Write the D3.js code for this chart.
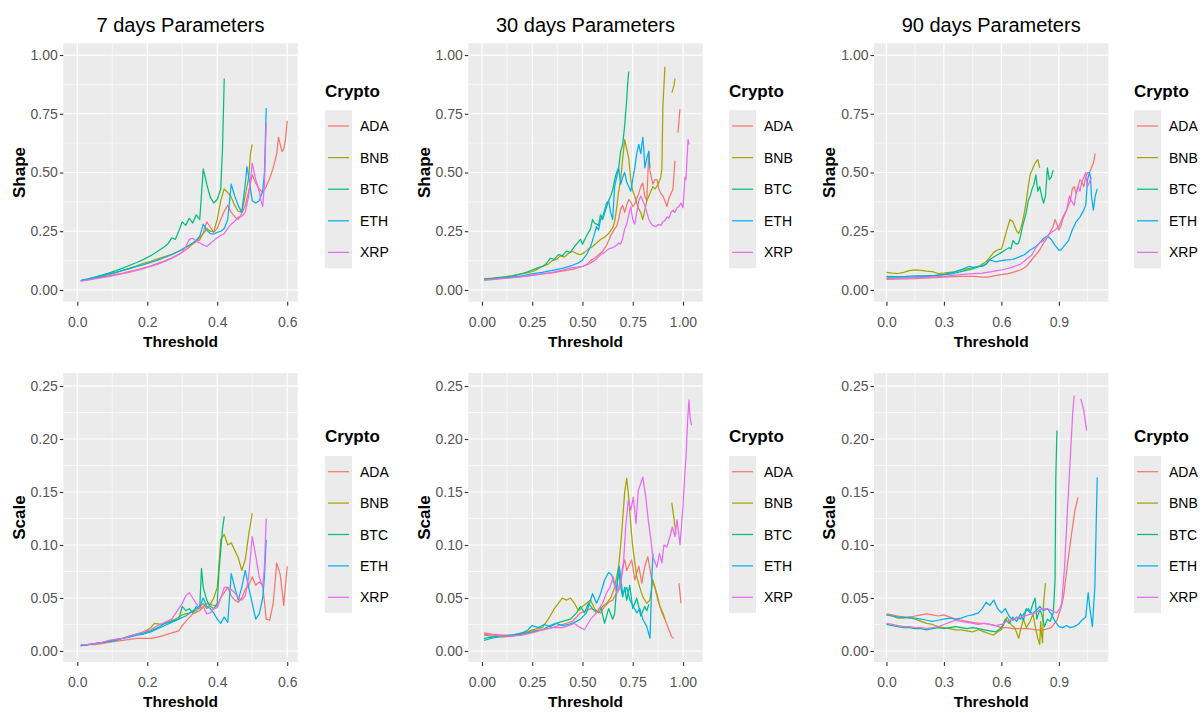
<!DOCTYPE html>
<html>
<head>
<meta charset="utf-8">
<script src="https://cdn.jsdelivr.net/npm/d3@7"></script>
<style>
  body { margin: 0; background: #ffffff; }
  svg text { font-family: "Liberation Sans", Arial, Helvetica, sans-serif; }
</style>
</head>
<body>
<svg id="chart" width="1204" height="713"></svg>
<script>
// ---- categories, labels and ticks ----
const cryptos = ["ADA", "BNB", "BTC", "ETH", "XRP"];
const cryptoColors = ["#F8766D", "#A3A500", "#00BF7D", "#00B0F6", "#E76BF3"];
const horizonTitles = ["7 days Parameters", "30 days Parameters", "90 days Parameters"];
const parameterNames = ["Shape", "Scale"];
const xTicks7 = [0, 0.2, 0.4, 0.6];
const xTicks30 = [0, 0.25, 0.5, 0.75, 1];
const xTicks90 = [0, 0.3, 0.6, 0.9];
const shapeTicks = [0, 0.25, 0.5, 0.75, 1];
const scaleTicks = [0, 0.05, 0.1, 0.15, 0.2, 0.25];

// ---- Shape estimates, 7 day window: [threshold, shape] ----
const shape7ADA = [[0.01,0.040],[0.03,0.044],[0.05,0.049],[0.07,0.054],[0.09,0.060],[0.11,0.066],[0.13,0.072],[0.15,0.079],[0.17,0.086],[0.19,0.094],[0.21,0.103],[0.23,0.113],[0.25,0.124],[0.27,0.137],[0.29,0.152],[0.31,0.170],[0.32,0.182],[0.33,0.196],[0.34,0.206],[0.35,0.213],[0.36,0.245],[0.37,0.290],[0.38,0.268],[0.39,0.245],[0.40,0.262],[0.41,0.300],[0.42,0.335],[0.43,0.360],[0.44,0.330],[0.45,0.312],[0.46,0.300],[0.47,0.325],[0.48,0.360],[0.49,0.420],[0.50,0.490],[0.51,0.455],[0.52,0.430],[0.53,0.415],[0.54,0.440],[0.55,0.475],[0.56,0.520],[0.57,0.580],[0.575,0.650],[0.58,0.620],[0.585,0.590],[0.59,0.600],[0.595,0.640],[0.60,0.720]];
const shape7BNB = [[0.01,0.040],[0.03,0.045],[0.05,0.051],[0.07,0.058],[0.09,0.066],[0.11,0.074],[0.13,0.083],[0.15,0.093],[0.17,0.103],[0.19,0.114],[0.21,0.122],[0.23,0.132],[0.25,0.142],[0.27,0.152],[0.29,0.165],[0.31,0.180],[0.33,0.198],[0.34,0.208],[0.35,0.222],[0.36,0.240],[0.37,0.262],[0.38,0.250],[0.39,0.248],[0.40,0.300],[0.41,0.380],[0.42,0.430],[0.43,0.415],[0.44,0.395],[0.45,0.360],[0.46,0.335],[0.47,0.330],[0.48,0.400],[0.49,0.480],[0.495,0.580],[0.50,0.620]];
const shape7BTC = [[0.01,0.040],[0.03,0.047],[0.05,0.055],[0.07,0.063],[0.09,0.072],[0.11,0.082],[0.13,0.093],[0.15,0.105],[0.17,0.117],[0.19,0.130],[0.21,0.146],[0.23,0.165],[0.25,0.185],[0.26,0.198],[0.27,0.222],[0.28,0.215],[0.29,0.250],[0.30,0.290],[0.31,0.275],[0.32,0.305],[0.33,0.285],[0.34,0.320],[0.35,0.300],[0.36,0.515],[0.37,0.450],[0.38,0.395],[0.39,0.370],[0.40,0.385],[0.41,0.430],[0.415,0.600],[0.42,0.900]];
const shape7ETH = [[0.01,0.040],[0.03,0.046],[0.05,0.052],[0.07,0.059],[0.09,0.067],[0.11,0.075],[0.13,0.083],[0.15,0.091],[0.17,0.100],[0.19,0.108],[0.21,0.117],[0.23,0.127],[0.25,0.138],[0.27,0.150],[0.29,0.165],[0.31,0.182],[0.33,0.200],[0.34,0.212],[0.35,0.228],[0.36,0.280],[0.37,0.255],[0.38,0.240],[0.39,0.238],[0.40,0.245],[0.41,0.250],[0.42,0.262],[0.43,0.300],[0.44,0.450],[0.45,0.400],[0.46,0.360],[0.47,0.330],[0.48,0.450],[0.485,0.525],[0.49,0.480],[0.50,0.380],[0.51,0.370],[0.52,0.380],[0.53,0.420],[0.535,0.500],[0.54,0.775]];
const shape7XRP = [[0.01,0.038],[0.03,0.042],[0.05,0.047],[0.07,0.052],[0.09,0.057],[0.11,0.063],[0.13,0.069],[0.15,0.076],[0.17,0.083],[0.19,0.091],[0.21,0.100],[0.23,0.110],[0.25,0.121],[0.27,0.134],[0.29,0.150],[0.30,0.160],[0.31,0.185],[0.32,0.215],[0.33,0.220],[0.34,0.208],[0.35,0.200],[0.36,0.192],[0.37,0.185],[0.38,0.198],[0.39,0.210],[0.40,0.222],[0.41,0.232],[0.42,0.240],[0.43,0.262],[0.44,0.280],[0.45,0.292],[0.46,0.310],[0.47,0.312],[0.48,0.330],[0.49,0.400],[0.50,0.540],[0.51,0.470],[0.52,0.420],[0.525,0.380],[0.53,0.355],[0.535,0.450],[0.54,0.710]];

// ---- Shape estimates, 30 day window (null = no estimate) ----
const shape30ADA = [[0.01,0.045],[0.05,0.047],[0.10,0.050],[0.15,0.053],[0.20,0.057],[0.25,0.062],[0.30,0.068],[0.35,0.073],[0.40,0.080],[0.45,0.088],[0.48,0.095],[0.50,0.100],[0.52,0.108],[0.54,0.125],[0.56,0.135],[0.58,0.150],[0.60,0.165],[0.62,0.190],[0.64,0.230],[0.66,0.260],[0.67,0.272],[0.68,0.300],[0.69,0.345],[0.70,0.360],[0.71,0.330],[0.72,0.360],[0.73,0.385],[0.74,0.375],[0.75,0.355],[0.76,0.365],[0.77,0.390],[0.78,0.410],[0.79,0.440],[0.80,0.455],[0.81,0.400],[0.82,0.380],[0.83,0.590],[0.835,0.510],[0.85,0.450],[0.86,0.470],[0.87,0.470],[0.88,0.430],[0.89,0.410],[0.90,0.400],[0.91,0.380],[0.92,0.355],[0.93,0.390],[0.94,0.410],[0.95,0.430],[0.96,0.550],[0.97,null],[0.975,0.670],[0.98,0.720],[0.985,0.770]];
const shape30BNB = [[0.01,0.047],[0.05,0.050],[0.10,0.055],[0.15,0.060],[0.20,0.068],[0.25,0.078],[0.28,0.090],[0.30,0.100],[0.33,0.110],[0.35,0.125],[0.37,0.130],[0.39,0.145],[0.41,0.140],[0.43,0.155],[0.45,0.165],[0.47,0.155],[0.49,0.150],[0.51,0.160],[0.53,0.175],[0.55,0.185],[0.57,0.200],[0.59,0.215],[0.61,0.225],[0.63,0.240],[0.65,0.265],[0.66,0.290],[0.67,0.350],[0.68,0.420],[0.69,0.470],[0.70,0.560],[0.71,0.640],[0.72,0.600],[0.73,0.560],[0.74,0.470],[0.75,0.420],[0.76,0.400],[0.77,0.370],[0.78,0.345],[0.79,0.330],[0.80,0.300],[0.81,0.340],[0.82,0.380],[0.83,0.400],[0.84,0.420],[0.85,0.440],[0.86,0.430],[0.87,0.440],[0.88,0.460],[0.89,0.480],[0.895,0.520],[0.90,0.780],[0.91,0.950],[0.92,null],[0.945,0.840],[0.955,0.870],[0.96,0.900]];
const shape30BTC = [[0.01,0.046],[0.05,0.048],[0.10,0.053],[0.15,0.060],[0.20,0.070],[0.23,0.078],[0.25,0.085],[0.28,0.095],[0.30,0.100],[0.32,0.112],[0.34,0.135],[0.36,0.130],[0.38,0.150],[0.40,0.145],[0.42,0.165],[0.44,0.160],[0.46,0.185],[0.48,0.205],[0.49,0.215],[0.50,0.195],[0.52,0.230],[0.54,0.260],[0.55,0.300],[0.56,0.285],[0.58,0.275],[0.59,0.320],[0.60,0.300],[0.62,0.355],[0.63,0.380],[0.64,0.400],[0.65,0.425],[0.66,0.470],[0.67,0.500],[0.68,0.520],[0.69,0.590],[0.70,0.620],[0.71,0.700],[0.72,0.810],[0.725,0.880],[0.73,0.930]];
const shape30ETH = [[0.01,0.043],[0.05,0.045],[0.10,0.050],[0.15,0.055],[0.20,0.060],[0.25,0.068],[0.30,0.075],[0.35,0.083],[0.40,0.092],[0.45,0.105],[0.48,0.115],[0.50,0.128],[0.52,0.150],[0.54,0.185],[0.55,0.210],[0.56,0.240],[0.57,0.270],[0.58,0.255],[0.59,0.300],[0.60,0.310],[0.61,0.340],[0.62,0.370],[0.63,0.380],[0.64,0.330],[0.65,0.300],[0.66,0.440],[0.67,0.480],[0.68,0.520],[0.69,0.450],[0.70,0.480],[0.71,0.500],[0.72,0.460],[0.73,0.440],[0.74,0.420],[0.75,0.470],[0.76,0.520],[0.77,0.580],[0.78,0.620],[0.79,0.580],[0.80,0.650],[0.805,0.600],[0.81,0.520],[0.82,0.560],[0.83,0.590],[0.835,0.520]];
const shape30XRP = [[0.01,0.042],[0.05,0.044],[0.10,0.048],[0.15,0.052],[0.20,0.057],[0.25,0.062],[0.30,0.068],[0.35,0.075],[0.40,0.085],[0.45,0.095],[0.50,0.100],[0.53,0.110],[0.56,0.125],[0.59,0.150],[0.61,0.160],[0.63,0.175],[0.65,0.180],[0.67,0.190],[0.68,0.200],[0.69,0.195],[0.70,0.220],[0.71,0.260],[0.72,0.280],[0.73,0.320],[0.74,0.355],[0.75,0.300],[0.76,0.280],[0.77,0.330],[0.78,0.380],[0.79,0.400],[0.80,0.380],[0.81,0.360],[0.82,0.330],[0.83,0.300],[0.84,0.285],[0.85,0.275],[0.86,0.270],[0.87,0.272],[0.88,0.280],[0.89,0.275],[0.90,0.290],[0.91,0.295],[0.92,0.310],[0.93,0.305],[0.94,0.330],[0.95,0.340],[0.96,0.330],[0.97,0.350],[0.98,0.355],[0.99,0.370],[1.00,0.350],[1.01,0.480],[1.015,0.470],[1.02,0.560],[1.025,0.640],[1.03,0.620]];

// ---- Shape estimates, 90 day window ----
const shape90ADA = [[0.00,0.045],[0.05,0.046],[0.10,0.047],[0.15,0.048],[0.20,0.050],[0.25,0.052],[0.30,0.055],[0.35,0.057],[0.40,0.058],[0.45,0.058],[0.48,0.057],[0.50,0.055],[0.53,0.055],[0.56,0.060],[0.60,0.065],[0.63,0.068],[0.66,0.075],[0.70,0.085],[0.73,0.100],[0.75,0.120],[0.78,0.150],[0.80,0.170],[0.82,0.200],[0.83,0.210],[0.85,0.240],[0.87,0.270],[0.88,0.300],[0.89,0.280],[0.90,0.255],[0.91,0.270],[0.92,0.300],[0.94,0.340],[0.96,0.380],[0.97,0.430],[0.98,0.440],[0.99,0.410],[1.00,0.440],[1.01,0.470],[1.02,0.460],[1.03,0.440],[1.04,0.480],[1.05,0.500],[1.06,0.500],[1.07,0.520],[1.08,0.540],[1.09,0.580]];
const shape90BNB = [[0.00,0.075],[0.03,0.072],[0.06,0.070],[0.09,0.075],[0.12,0.082],[0.15,0.085],[0.18,0.083],[0.21,0.080],[0.24,0.078],[0.27,0.070],[0.30,0.072],[0.33,0.075],[0.36,0.078],[0.39,0.085],[0.42,0.090],[0.45,0.095],[0.48,0.100],[0.50,0.110],[0.52,0.120],[0.54,0.140],[0.56,0.160],[0.58,0.170],[0.60,0.175],[0.61,0.200],[0.62,0.230],[0.63,0.260],[0.645,0.300],[0.66,0.290],[0.67,0.270],[0.68,0.250],[0.69,0.240],[0.70,0.260],[0.71,0.290],[0.72,0.330],[0.73,0.380],[0.74,0.440],[0.75,0.490],[0.76,0.510],[0.77,0.530],[0.78,0.545],[0.79,0.555],[0.80,0.520]];
const shape90BTC = [[0.00,0.058],[0.05,0.057],[0.10,0.058],[0.15,0.060],[0.20,0.060],[0.25,0.062],[0.30,0.065],[0.35,0.070],[0.40,0.080],[0.45,0.090],[0.48,0.100],[0.50,0.100],[0.52,0.110],[0.54,0.130],[0.56,0.140],[0.58,0.150],[0.60,0.160],[0.62,0.170],[0.64,0.180],[0.65,0.175],[0.66,0.210],[0.67,0.200],[0.68,0.195],[0.69,0.200],[0.70,0.230],[0.71,0.270],[0.72,0.300],[0.73,0.330],[0.74,0.380],[0.75,0.400],[0.76,0.430],[0.77,0.450],[0.78,0.490],[0.79,0.420],[0.80,0.440],[0.81,0.400],[0.82,0.370],[0.83,0.400],[0.84,0.520],[0.85,0.470],[0.86,0.480],[0.87,0.510]];
const shape90ETH = [[0.00,0.055],[0.05,0.055],[0.10,0.055],[0.15,0.056],[0.20,0.058],[0.25,0.060],[0.30,0.065],[0.35,0.075],[0.40,0.090],[0.43,0.100],[0.46,0.095],[0.49,0.100],[0.52,0.110],[0.54,0.128],[0.57,0.120],[0.60,0.125],[0.63,0.128],[0.66,0.130],[0.69,0.140],[0.72,0.150],[0.75,0.170],[0.78,0.185],[0.80,0.200],[0.82,0.220],[0.84,0.230],[0.86,0.215],[0.88,0.190],[0.90,0.170],[0.91,0.170],[0.93,0.190],[0.95,0.210],[0.97,0.255],[0.99,0.290],[1.01,0.310],[1.03,0.340],[1.04,0.360],[1.05,0.470],[1.06,0.500],[1.065,0.480],[1.07,0.400],[1.08,0.340],[1.09,0.400],[1.10,0.430]];
const shape90XRP = [[0.00,0.048],[0.05,0.049],[0.10,0.050],[0.15,0.052],[0.20,0.054],[0.25,0.056],[0.30,0.058],[0.35,0.062],[0.40,0.066],[0.45,0.070],[0.50,0.072],[0.55,0.078],[0.60,0.085],[0.65,0.095],[0.70,0.110],[0.73,0.130],[0.76,0.150],[0.78,0.180],[0.80,0.200],[0.82,0.210],[0.84,0.230],[0.86,0.245],[0.88,0.255],[0.90,0.270],[0.92,0.310],[0.94,0.340],[0.955,0.400],[0.965,0.380],[0.98,0.360],[0.99,0.410],[1.00,0.440],[1.01,0.420],[1.02,0.460],[1.03,0.480],[1.04,0.500],[1.05,0.440],[1.06,0.460],[1.07,0.480]];

// ---- Scale estimates, 7 day window ----
const scale7ADA = [[0.01,0.005],[0.03,0.006],[0.05,0.006],[0.07,0.007],[0.09,0.008],[0.11,0.009],[0.13,0.010],[0.15,0.011],[0.17,0.012],[0.19,0.012],[0.21,0.012],[0.23,0.013],[0.25,0.015],[0.27,0.017],[0.29,0.019],[0.30,0.024],[0.31,0.028],[0.33,0.035],[0.35,0.038],[0.37,0.045],[0.38,0.044],[0.40,0.042],[0.41,0.050],[0.42,0.055],[0.43,0.060],[0.44,0.052],[0.45,0.048],[0.46,0.046],[0.47,0.050],[0.48,0.058],[0.49,0.062],[0.50,0.070],[0.51,0.062],[0.52,0.065],[0.53,0.062],[0.54,0.030],[0.55,0.029],[0.56,0.045],[0.57,0.083],[0.58,0.072],[0.59,0.043],[0.60,0.080]];
const scale7BNB = [[0.01,0.005],[0.03,0.006],[0.05,0.007],[0.07,0.008],[0.09,0.009],[0.11,0.010],[0.13,0.012],[0.15,0.014],[0.17,0.016],[0.19,0.018],[0.21,0.022],[0.22,0.026],[0.24,0.025],[0.26,0.027],[0.28,0.030],[0.30,0.034],[0.32,0.036],[0.34,0.038],[0.36,0.045],[0.37,0.040],[0.38,0.044],[0.39,0.050],[0.40,0.060],[0.41,0.105],[0.42,0.110],[0.43,0.100],[0.44,0.102],[0.45,0.095],[0.46,0.088],[0.47,0.076],[0.48,0.086],[0.49,0.110],[0.50,0.130]];
const scale7BTC = [[0.01,0.005],[0.03,0.006],[0.05,0.007],[0.07,0.008],[0.09,0.009],[0.11,0.011],[0.13,0.012],[0.15,0.014],[0.17,0.016],[0.19,0.017],[0.21,0.019],[0.23,0.022],[0.25,0.026],[0.27,0.028],[0.29,0.030],[0.30,0.042],[0.31,0.038],[0.32,0.040],[0.33,0.036],[0.34,0.042],[0.35,0.040],[0.355,0.078],[0.36,0.060],[0.37,0.048],[0.38,0.042],[0.39,0.040],[0.40,0.045],[0.405,0.075],[0.41,0.095],[0.415,0.115],[0.42,0.127]];
const scale7ETH = [[0.01,0.005],[0.03,0.006],[0.05,0.007],[0.07,0.008],[0.09,0.009],[0.11,0.010],[0.13,0.012],[0.15,0.013],[0.17,0.015],[0.19,0.016],[0.21,0.018],[0.23,0.021],[0.25,0.024],[0.27,0.027],[0.29,0.030],[0.31,0.033],[0.33,0.038],[0.35,0.042],[0.36,0.050],[0.37,0.042],[0.38,0.040],[0.39,0.036],[0.40,0.030],[0.41,0.026],[0.42,0.032],[0.43,0.027],[0.44,0.073],[0.45,0.060],[0.46,0.048],[0.47,0.060],[0.48,0.076],[0.49,0.060],[0.50,0.045],[0.51,0.030],[0.52,0.035],[0.53,0.050],[0.535,0.070],[0.54,0.105]];
const scale7XRP = [[0.01,0.006],[0.03,0.006],[0.05,0.007],[0.07,0.008],[0.09,0.010],[0.11,0.011],[0.13,0.012],[0.15,0.014],[0.17,0.016],[0.19,0.018],[0.21,0.020],[0.23,0.024],[0.25,0.027],[0.27,0.030],[0.29,0.040],[0.30,0.045],[0.31,0.052],[0.32,0.055],[0.33,0.050],[0.34,0.045],[0.35,0.040],[0.36,0.042],[0.37,0.035],[0.38,0.036],[0.39,0.040],[0.40,0.041],[0.41,0.050],[0.42,0.060],[0.43,0.060],[0.44,0.058],[0.45,0.055],[0.46,0.050],[0.47,0.048],[0.48,0.052],[0.49,0.070],[0.50,0.108],[0.51,0.090],[0.52,0.070],[0.53,0.060],[0.535,0.080],[0.54,0.125]];

// ---- Scale estimates, 30 day window ----
const scale30ADA = [[0.01,0.017],[0.05,0.016],[0.10,0.015],[0.15,0.015],[0.20,0.017],[0.25,0.019],[0.30,0.020],[0.35,0.022],[0.40,0.025],[0.45,0.028],[0.49,0.036],[0.52,0.038],[0.54,0.040],[0.57,0.038],[0.59,0.036],[0.61,0.042],[0.63,0.046],[0.65,0.048],[0.67,0.055],[0.68,0.060],[0.69,0.067],[0.70,0.080],[0.71,0.086],[0.72,0.076],[0.73,0.080],[0.745,0.086],[0.76,0.067],[0.78,0.080],[0.795,0.064],[0.81,0.080],[0.825,0.089],[0.845,0.067],[0.86,0.060],[0.875,0.048],[0.895,0.036],[0.91,0.030],[0.93,0.020],[0.945,0.013],[0.955,0.012],[0.97,null],[0.98,0.064],[0.99,0.045]];
const scale30BNB = [[0.01,0.015],[0.05,0.014],[0.10,0.013],[0.15,0.014],[0.20,0.016],[0.25,0.020],[0.30,0.022],[0.33,0.030],[0.36,0.040],[0.38,0.045],[0.40,0.050],[0.42,0.048],[0.44,0.050],[0.46,0.045],[0.48,0.038],[0.50,0.042],[0.52,0.045],[0.54,0.048],[0.56,0.040],[0.58,0.036],[0.60,0.042],[0.62,0.045],[0.64,0.050],[0.66,0.060],[0.68,0.080],[0.69,0.100],[0.70,0.124],[0.71,0.150],[0.72,0.163],[0.73,0.145],[0.74,0.120],[0.75,0.098],[0.77,0.070],[0.785,0.060],[0.80,0.051],[0.82,0.045],[0.835,0.048],[0.85,0.067],[0.87,0.054],[0.885,0.042],[0.90,0.036],[0.91,0.030],[0.92,null],[0.944,0.140],[0.955,0.125],[0.965,0.110]];
const scale30BTC = [[0.01,0.012],[0.05,0.013],[0.10,0.014],[0.15,0.015],[0.20,0.016],[0.25,0.018],[0.30,0.020],[0.35,0.025],[0.40,0.028],[0.44,0.030],[0.47,0.036],[0.49,0.042],[0.51,0.036],[0.53,0.045],[0.55,0.040],[0.57,0.036],[0.59,0.042],[0.61,0.026],[0.63,0.040],[0.65,0.030],[0.66,0.035],[0.67,0.060],[0.68,0.078],[0.69,0.060],[0.70,0.051],[0.71,0.060],[0.72,0.048],[0.735,0.062],[0.75,0.040],[0.77,0.050],[0.79,0.033],[0.81,0.042],[0.82,0.038],[0.83,0.044]];
const scale30ETH = [[0.01,0.010],[0.05,0.012],[0.10,0.014],[0.15,0.015],[0.20,0.017],[0.23,0.020],[0.25,0.024],[0.28,0.022],[0.31,0.025],[0.34,0.023],[0.37,0.026],[0.40,0.024],[0.43,0.025],[0.46,0.027],[0.49,0.030],[0.52,0.036],[0.55,0.054],[0.57,0.045],[0.59,0.054],[0.61,0.067],[0.63,0.074],[0.645,0.072],[0.66,0.062],[0.67,0.058],[0.683,0.080],[0.70,0.054],[0.72,0.060],[0.736,0.048],[0.753,0.042],[0.77,0.036],[0.785,0.040],[0.80,0.030],[0.82,0.023],[0.836,0.012],[0.845,0.067],[0.85,0.092]];
const scale30XRP = [[0.01,0.016],[0.05,0.015],[0.10,0.014],[0.15,0.014],[0.20,0.015],[0.25,0.017],[0.30,0.020],[0.35,0.022],[0.40,0.022],[0.43,0.024],[0.46,0.026],[0.49,0.022],[0.51,0.020],[0.54,0.030],[0.57,0.036],[0.60,0.045],[0.62,0.055],[0.637,0.060],[0.653,0.070],[0.67,0.054],[0.687,0.060],[0.703,0.080],[0.715,0.117],[0.728,0.142],[0.74,0.133],[0.753,0.145],[0.766,0.120],[0.778,0.152],[0.79,0.158],[0.80,0.164],[0.815,0.145],[0.827,0.124],[0.84,0.105],[0.85,0.089],[0.87,0.079],[0.883,0.092],[0.895,0.083],[0.905,0.100],[0.92,0.098],[0.935,0.108],[0.947,0.117],[0.96,0.108],[0.97,0.124],[0.985,0.100],[1.00,0.136],[1.01,0.170],[1.015,0.183],[1.023,0.218],[1.03,0.237],[1.035,0.220],[1.043,0.213]];

// ---- Scale estimates, 90 day window ----
const scale90ADA = [[0.00,0.035],[0.03,0.034],[0.06,0.033],[0.09,0.032],[0.12,0.032],[0.15,0.033],[0.18,0.034],[0.21,0.035],[0.24,0.034],[0.27,0.033],[0.30,0.034],[0.33,0.032],[0.36,0.030],[0.39,0.029],[0.42,0.028],[0.45,0.027],[0.48,0.026],[0.51,0.026],[0.54,0.025],[0.57,0.024],[0.60,0.022],[0.63,0.022],[0.66,0.021],[0.70,0.021],[0.74,0.021],[0.78,0.020],[0.82,0.020],[0.86,0.022],[0.89,0.029],[0.91,0.040],[0.924,0.051],[0.944,0.080],[0.962,0.105],[0.984,0.133],[1.00,0.145]];
const scale90BNB = [[0.00,0.034],[0.03,0.033],[0.06,0.031],[0.09,0.031],[0.12,0.032],[0.15,0.030],[0.18,0.028],[0.21,0.026],[0.24,0.025],[0.27,0.023],[0.30,0.022],[0.33,0.021],[0.36,0.020],[0.39,0.020],[0.42,0.019],[0.45,0.018],[0.48,0.020],[0.51,0.018],[0.54,0.016],[0.56,0.015],[0.58,0.018],[0.60,0.020],[0.62,0.028],[0.63,0.032],[0.65,0.025],[0.67,0.022],[0.69,0.012],[0.70,0.020],[0.715,0.030],[0.73,0.022],[0.75,0.028],[0.765,0.035],[0.78,0.020],[0.79,0.012],[0.80,0.006],[0.805,0.028],[0.81,0.015],[0.815,0.008],[0.82,0.045],[0.83,0.064]];
const scale90BTC = [[0.00,0.025],[0.03,0.024],[0.06,0.023],[0.09,0.022],[0.12,0.022],[0.15,0.021],[0.18,0.021],[0.21,0.020],[0.24,0.021],[0.27,0.022],[0.30,0.021],[0.33,0.022],[0.36,0.023],[0.39,0.022],[0.42,0.021],[0.45,0.022],[0.48,0.021],[0.51,0.020],[0.54,0.019],[0.57,0.018],[0.60,0.022],[0.62,0.030],[0.64,0.026],[0.66,0.032],[0.68,0.028],[0.70,0.035],[0.715,0.029],[0.73,0.040],[0.75,0.036],[0.765,0.045],[0.776,0.050],[0.785,0.030],[0.80,0.039],[0.81,0.035],[0.825,0.023],[0.84,0.030],[0.855,0.028],[0.871,0.036],[0.88,0.067],[0.884,0.164],[0.89,0.208]];
const scale90ETH = [[0.00,0.034],[0.03,0.033],[0.06,0.032],[0.09,0.032],[0.12,0.031],[0.15,0.031],[0.18,0.030],[0.21,0.029],[0.24,0.028],[0.27,0.029],[0.30,0.030],[0.33,0.031],[0.36,0.030],[0.39,0.031],[0.42,0.033],[0.45,0.034],[0.48,0.036],[0.50,0.040],[0.52,0.046],[0.54,0.043],[0.56,0.048],[0.58,0.040],[0.60,0.036],[0.62,0.040],[0.64,0.033],[0.66,0.029],[0.68,0.032],[0.70,0.030],[0.72,0.036],[0.74,0.040],[0.76,0.035],[0.78,0.038],[0.80,0.042],[0.82,0.038],[0.84,0.040],[0.86,0.035],[0.88,0.028],[0.90,0.023],[0.92,0.022],[0.94,0.024],[0.96,0.022],[0.98,0.023],[1.00,0.025],[1.02,0.029],[1.04,0.032],[1.053,0.055],[1.06,0.043],[1.075,0.023],[1.088,0.061],[1.096,0.130],[1.10,0.164]];
const scale90XRP = [[0.00,0.026],[0.03,0.025],[0.06,0.024],[0.09,0.023],[0.12,0.023],[0.15,0.022],[0.18,0.022],[0.21,0.021],[0.24,0.022],[0.27,0.023],[0.30,0.025],[0.33,0.027],[0.36,0.029],[0.39,0.028],[0.42,0.027],[0.45,0.026],[0.48,0.025],[0.51,0.026],[0.54,0.025],[0.57,0.024],[0.60,0.025],[0.63,0.028],[0.66,0.030],[0.70,0.032],[0.74,0.034],[0.78,0.036],[0.80,0.039],[0.83,0.040],[0.854,0.039],[0.875,0.037],[0.889,0.036],[0.905,0.040],[0.915,0.045],[0.93,0.080],[0.944,0.130],[0.958,0.177],[0.972,0.224],[0.98,0.241],[0.985,null],[1.015,0.238],[1.03,0.227],[1.045,0.208]];

// ---- series per facet, rows = parameter, cols = window ----
const facetSeries = [
  [[shape7ADA, shape7BNB, shape7BTC, shape7ETH, shape7XRP],
   [shape30ADA, shape30BNB, shape30BTC, shape30ETH, shape30XRP],
   [shape90ADA, shape90BNB, shape90BTC, shape90ETH, shape90XRP]],
  [[scale7ADA, scale7BNB, scale7BTC, scale7ETH, scale7XRP],
   [scale30ADA, scale30BNB, scale30BTC, scale30ETH, scale30XRP],
   [scale90ADA, scale90BNB, scale90BTC, scale90ETH, scale90XRP]]
];

// ---- layout ----
const FONT = '"Liberation Sans", Arial, Helvetica, sans-serif';
const columns = [
  { left: 63.3, right: 297.7, xDomain: [-0.04, 0.63], ticks: xTicks7, fmt: ".1f", legendX: 325, yTitleX: 25 },
  { left: 468.3, right: 702.7, xDomain: [-0.068, 1.098], ticks: xTicks30, fmt: ".2f", legendX: 729, yTitleX: 429.5 },
  { left: 874, right: 1108.3, xDomain: [-0.065, 1.158], ticks: xTicks90, fmt: ".1f", legendX: 1134, yTitleX: 834.5 }
];
const rows = [
  { top: 43.3, bottom: 301.7, yDomain: [-0.05, 1.05], ticks: shapeTicks, legendTitleY: 97, keyTop: 110.2, keyH: 31.6, xTitleY: 346.5 },
  { top: 373, bottom: 662, yDomain: [-0.0104, 0.2623], ticks: scaleTicks, legendTitleY: 441.5, keyTop: 456, keyH: 31.4, xTitleY: 706.5 }
];

// midpoints between breaks, extended one step each side when inside the domain
function minorBreaks(ticks, domain) {
  const step = ticks[1] - ticks[0];
  const out = [];
  for (let v = ticks[0] - step / 2; v <= domain[1] + 1e-9; v += step) {
    if (v >= domain[0]) out.push(+v.toFixed(6));
  }
  return out;
}

const svg = d3.select("#chart");

rows.forEach((row, ri) => {
  columns.forEach((col, ci) => {
    const x = d3.scaleLinear().domain(col.xDomain).range([col.left, col.right]);
    const y = d3.scaleLinear().domain(row.yDomain).range([row.bottom, row.top]);
    const g = svg.append("g");

    g.append("rect")
      .attr("x", col.left).attr("y", row.top)
      .attr("width", col.right - col.left).attr("height", row.bottom - row.top)
      .attr("fill", "#EBEBEB");

    // grid
    g.selectAll(".gx-minor").data(minorBreaks(col.ticks, col.xDomain)).join("line")
      .attr("x1", d => x(d)).attr("x2", d => x(d)).attr("y1", row.top).attr("y2", row.bottom)
      .attr("stroke", "#ffffff").attr("stroke-width", 0.6);
    g.selectAll(".gy-minor").data(minorBreaks(row.ticks, row.yDomain)).join("line")
      .attr("y1", d => y(d)).attr("y2", d => y(d)).attr("x1", col.left).attr("x2", col.right)
      .attr("stroke", "#ffffff").attr("stroke-width", 0.6);
    g.selectAll(".gx-major").data(col.ticks).join("line")
      .attr("x1", d => x(d)).attr("x2", d => x(d)).attr("y1", row.top).attr("y2", row.bottom)
      .attr("stroke", "#ffffff").attr("stroke-width", 1.2);
    g.selectAll(".gy-major").data(row.ticks).join("line")
      .attr("y1", d => y(d)).attr("y2", d => y(d)).attr("x1", col.left).attr("x2", col.right)
      .attr("stroke", "#ffffff").attr("stroke-width", 1.2);

    // series lines, drawn in legend order
    const line = d3.line()
      .defined(d => d[1] !== null)
      .x(d => x(d[0])).y(d => y(d[1]));
    facetSeries[ri][ci].forEach((series, k) => {
      g.append("path")
        .attr("d", line(series))
        .attr("fill", "none")
        .attr("stroke", cryptoColors[k])
        .attr("stroke-width", 1.25)
        .attr("stroke-linejoin", "round");
    });

    // axes
    const xAxis = svg.append("g")
      .attr("transform", `translate(0,${row.bottom})`)
      .call(d3.axisBottom(x).tickValues(col.ticks).tickFormat(d3.format(col.fmt)).tickSize(4).tickPadding(11));
    const yAxis = svg.append("g")
      .attr("transform", `translate(${col.left},0)`)
      .call(d3.axisLeft(y).tickValues(row.ticks).tickFormat(d3.format(".2f")).tickSize(3.5).tickPadding(2));
    [xAxis, yAxis].forEach(a => {
      a.select(".domain").remove();
      a.attr("font-size", 14).attr("font-family", FONT);
      a.selectAll("line").attr("stroke", "#333333").attr("stroke-width", 1.1);
      a.selectAll("text").attr("fill", "#555555");
    });

    // axis titles
    const midX = (col.left + col.right) / 2;
    const midY = (row.top + row.bottom) / 2;
    svg.append("text")
      .attr("x", midX).attr("y", row.xTitleY)
      .attr("text-anchor", "middle")
      .attr("font-size", 15.5).attr("font-weight", "bold").attr("fill", "#000")
      .text("Threshold");
    svg.append("text")
      .attr("transform", `translate(${col.yTitleX},${midY}) rotate(-90)`)
      .attr("text-anchor", "middle")
      .attr("font-size", 17).attr("font-weight", "bold").attr("fill", "#000")
      .text(parameterNames[ri]);

    // facet title on the top row
    if (ri === 0) {
      svg.append("text")
        .attr("x", midX).attr("y", 31.5)
        .attr("text-anchor", "middle")
        .attr("font-size", 20).attr("fill", "#000")
        .text(horizonTitles[ci]);
    }

    // legend
    const lg = svg.append("g");
    lg.append("text")
      .attr("x", col.legendX).attr("y", row.legendTitleY)
      .attr("font-size", 17).attr("font-weight", "bold").attr("fill", "#000")
      .text("Crypto");
    lg.append("rect")
      .attr("x", col.legendX).attr("y", row.keyTop)
      .attr("width", 27).attr("height", row.keyH * cryptos.length)
      .attr("fill", "#EBEBEB");
    cryptos.forEach((name, k) => {
      const cy = row.keyTop + row.keyH * (k + 0.5);
      lg.append("line")
        .attr("x1", col.legendX + 3).attr("x2", col.legendX + 24)
        .attr("y1", cy).attr("y2", cy)
        .attr("stroke", cryptoColors[k]).attr("stroke-width", 1.25);
      lg.append("text")
        .attr("x", col.legendX + 35).attr("y", cy).attr("dy", "0.36em")
        .attr("font-size", 14).attr("fill", "#000")
        .text(name);
    });
  });
});
</script>
</body>
</html>
